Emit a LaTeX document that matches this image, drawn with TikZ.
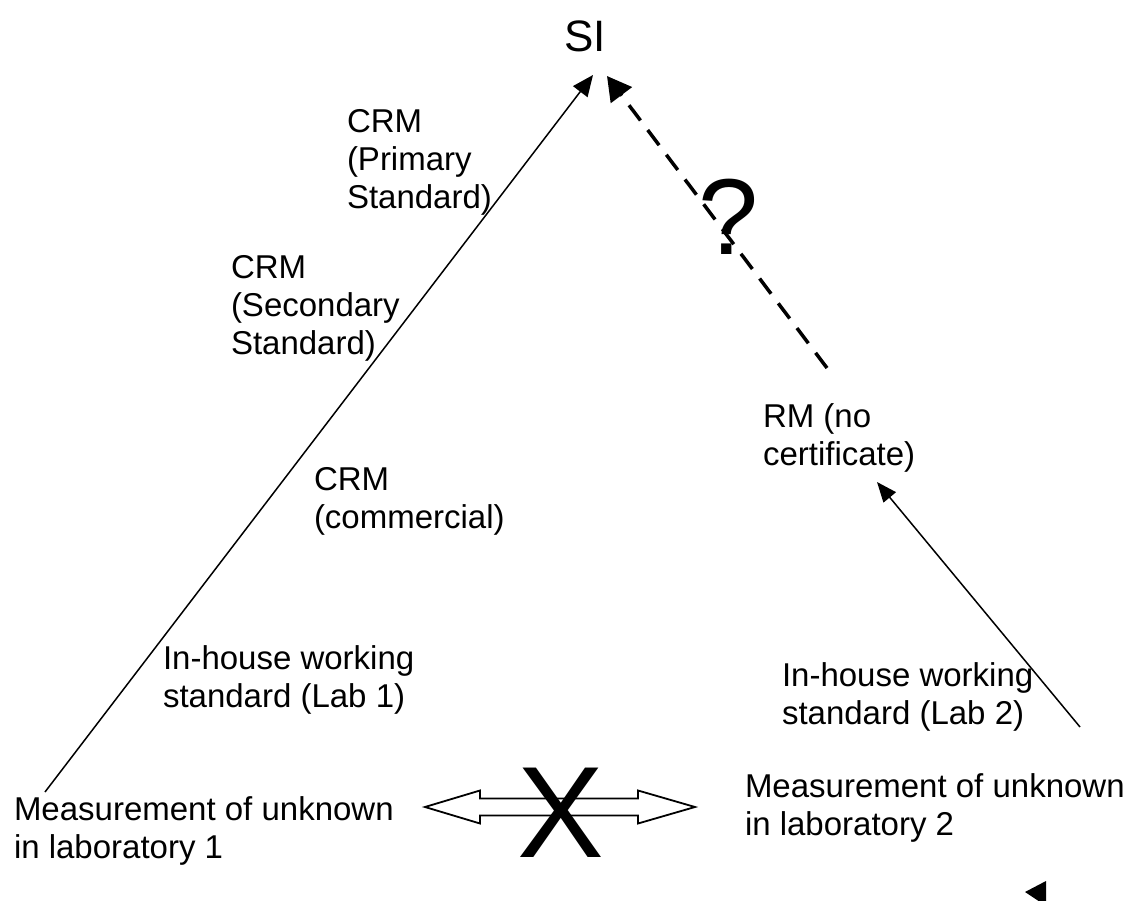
\documentclass[tikz,border=0pt]{standalone}
\usepackage{fontspec}
\setmainfont{Liberation Sans}
\usetikzlibrary{arrows.meta}
\begin{document}
\begin{tikzpicture}[x=1pt,y=-1pt,
            lbl/.style={anchor=base west,inner sep=0pt,outer sep=0pt,align=left,
                font=\fontsize{33}{38}\selectfont}]
            \useasboundingbox (0,0) rectangle (1130,901);
            \path
            (564,52) node[lbl,font=\fontsize{44}{50}\selectfont] (SI) {SI} % <<< top
            (347,209) node[lbl] (P) {CRM\\(Primary\\Standard)}
            (231,355) node[lbl] (S) {CRM\\(Secondary\\Standard)}
            (314,528) node[lbl] (C) {CRM\\(commercial)}
            (163,707) node[lbl] (W1) {In-house working\\standard (Lab 1)}
            (14,858) node[lbl] (M1) {Measurement of unknown\\in laboratory 1} % <<< lab 1
            (763,465) node[lbl] (R) {RM (no\\certificate)}
            (782,724) node[lbl] (W2) {In-house working\\standard (Lab 2)}
            (745,835) node[lbl] (M2) {Measurement of unknown\\in laboratory 2}; % <<< lab 2
            \coordinate (F1) at (45,792);
            \coordinate (T1) at (593,75);
            \coordinate (F2) at (1080,727);
            \coordinate (T2) at (877,482);
            \coordinate (F3) at (827,368);
            \coordinate (T3) at (607,76);
            \coordinate (DL) at (425,807);
            \coordinate (DR) at (695,807);
            \begin{scope}[line width=1.5pt]
                \draw[-{Triangle[length=21pt,width=18pt]}] (F1)--(T1);
                \draw[-{Triangle[length=20pt,width=16pt]}] (F2)--(T2);
                \draw[line width=3.5pt,dash pattern=on 19pt off 12pt,
                    -{Triangle[length=24pt,width=26pt]}] (F3)--(T3);
            \end{scope}
            \path (698,255) node[lbl,font=\fontsize{108}{112}\selectfont] (Q) {?};
            \draw[line width=1.8pt,fill=white]
            (DL) -- ++(55,-16.5) -- ++(0,8) -- ++(158,0) -- ++(0,-8)
            -- (DR) -- ++(-57,16.5) -- ++(0,-8) -- ++(-158,0) -- ++(0,8) -- cycle;
            \path (517,857) node[lbl,font=\fontsize{130}{135}\selectfont] (X) {X};
            \fill (1025,892) -- (1046,881) -- (1046,906) -- cycle;
        \end{tikzpicture}
\end{document}
